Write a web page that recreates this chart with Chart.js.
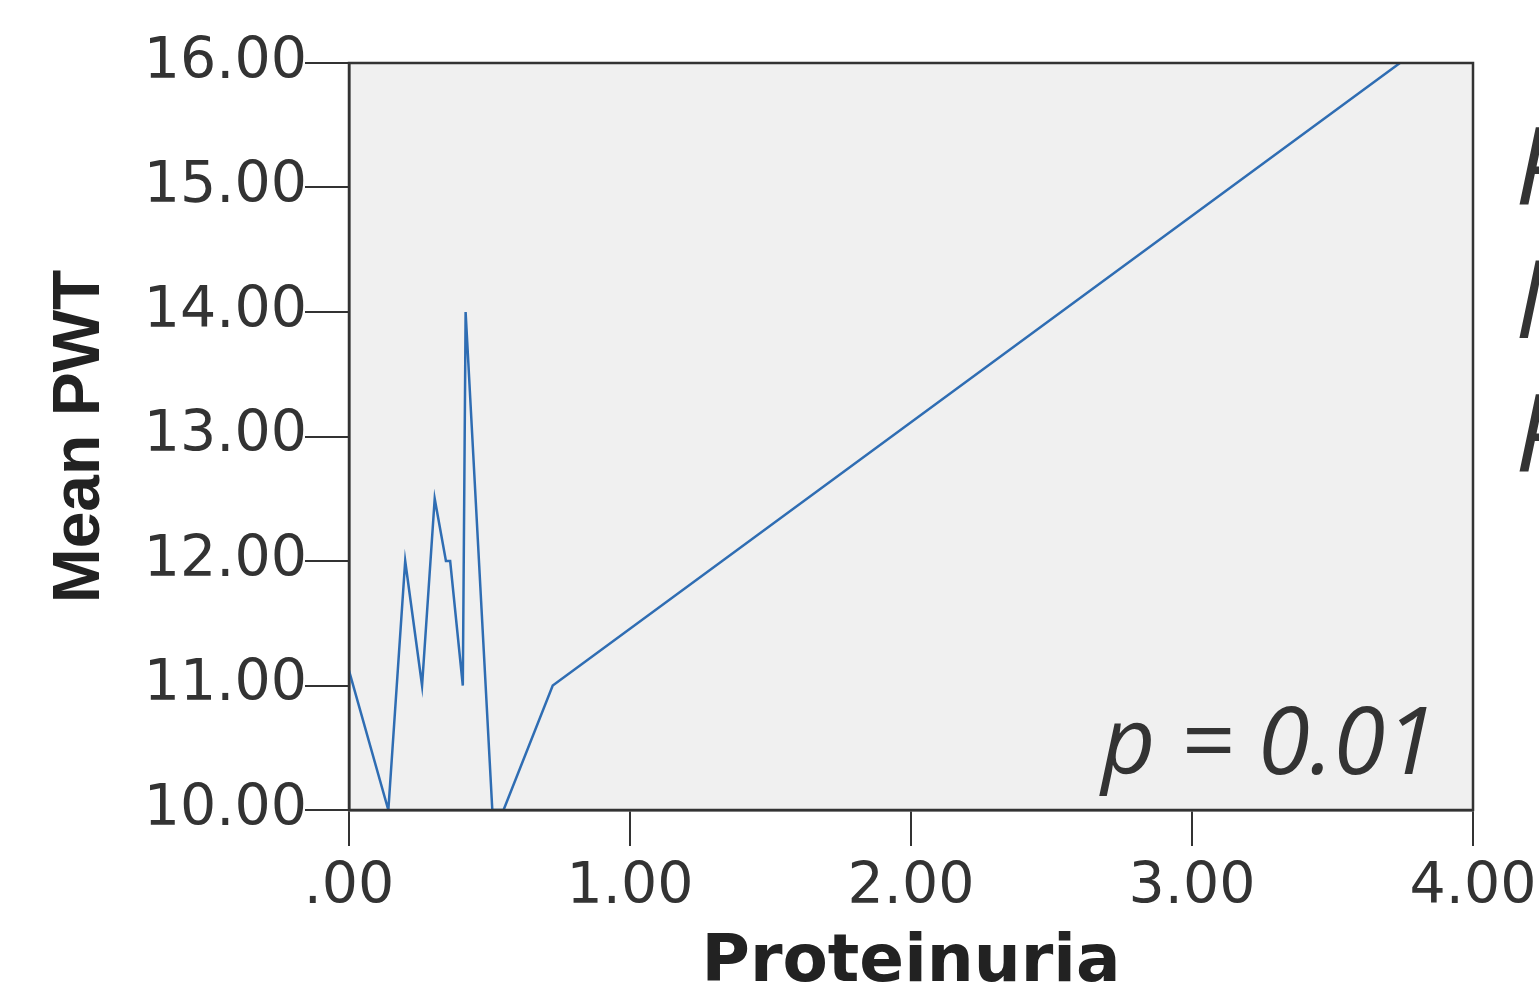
<!DOCTYPE html>
<html>
<head>
<meta charset="utf-8">
<script src="https://cdn.jsdelivr.net/npm/chart.js@4/dist/chart.umd.min.js"></script>
<style>
  html, body { margin: 0; padding: 0; background: #ffffff; }
  #wrap { width: 1539px; height: 1001px; }
</style>
</head>
<body>
<div id="wrap"><canvas id="c"></canvas></div>
<script>
// values
const proteinuria = [0.00, 0.14, 0.20, 0.26, 0.305, 0.345, 0.36, 0.405, 0.415, 0.51, 0.55, 0.725, 3.74];
const meanPWT     = [11.12, 10.0, 12.0, 11.0, 12.5, 12.0, 12.0, 11.0, 14.0, 10.0, 10.0, 11.0, 16.0];
const xTicks = [0, 1, 2, 3, 4];
const yTicks = [10, 11, 12, 13, 14, 15, 16];
const pLabel = "p = 0.01";
const cutLetters = ["P", "N", "P"];

const axisColor = "#333333";

// grey plot area + frame, and the extra text on the right
const decor = {
  id: "decor",
  beforeDraw(chart) {
    const { ctx, chartArea: a } = chart;
    ctx.save();
    ctx.fillStyle = "#f0f0f0";
    ctx.fillRect(a.left, a.top, a.right - a.left, a.bottom - a.top);
    ctx.restore();
  },
  afterDraw(chart) {
    const { ctx, chartArea: a } = chart;
    ctx.save();
    ctx.strokeStyle = axisColor;
    ctx.lineWidth = 2.5;
    ctx.strokeRect(a.left, a.top, a.right - a.left, a.bottom - a.top);

    ctx.fillStyle = "#333333";
    ctx.font = "italic 94px 'Open Sans'";
    ctx.textAlign = "right";
    ctx.textBaseline = "alphabetic";
    ctx.fillText(pLabel, a.right - 36, a.bottom - 36);

    ctx.font = "italic 108px 'Open Sans'";
    ctx.textAlign = "left";
    const base = [205, 338, 472];
    cutLetters.forEach((t, i) => ctx.fillText(t, 1515, base[i]));
    ctx.restore();
  }
};

new Chart(document.getElementById("c"), {
  type: "scatter",
  data: {
    datasets: [{
      data: proteinuria.map((x, i) => ({ x: x, y: meanPWT[i] })),
      showLine: true,
      borderColor: "#2f6db3",
      borderWidth: 2.5,
      pointRadius: 0,
      tension: 0
    }]
  },
  options: {
    responsive: true,
    maintainAspectRatio: false,
    animation: false,
    layout: { padding: { top: 63, right: 66, left: 0, bottom: 0 } },
    plugins: { legend: { display: false }, tooltip: { enabled: false } },
    scales: {
      x: {
        type: "linear",
        min: 0, max: 4,
        afterBuildTicks: s => { s.ticks = xTicks.map(v => ({ value: v })); },
        afterFit: s => { s.height = 191; s.paddingRight = 0; s.paddingLeft = 0; },
        border: { display: true, color: axisColor, width: 2.5 },
        grid: { drawOnChartArea: false, drawTicks: true, tickLength: 36, color: axisColor, lineWidth: 2 },
        ticks: {
          color: "#333333",
          padding: 8,
          font: { family: "'DejaVu Sans'", size: 57 },
          callback: v => v === 0 ? ".00" : v.toFixed(2)
        },
        title: {
          display: true,
          text: "Proteinuria",
          color: "#222222",
          font: { family: "'DejaVu Sans'", size: 66, weight: "bold", lineHeight: 1 },
          padding: { top: 0, bottom: 4 }
        }
      },
      y: {
        min: 10, max: 16,
        afterBuildTicks: s => { s.ticks = yTicks.map(v => ({ value: v })); },
        afterFit: s => { s.width = 349; },
        border: { display: true, color: axisColor, width: 2.5 },
        grid: { drawOnChartArea: false, drawTicks: true, tickLength: 44, color: axisColor, lineWidth: 2 },
        ticks: {
          color: "#333333",
          padding: -2,
          font: { family: "'DejaVu Sans'", size: 57 },
          callback: v => v.toFixed(2)
        },
        title: {
          display: true,
          text: "Mean PWT",
          color: "#222222",
          font: { family: "'Liberation Sans'", size: 66, weight: "bold", lineHeight: 1 },
          padding: { top: 48, bottom: 0 }
        }
      }
    }
  },
  plugins: [decor]
});
</script>
</body>
</html>
